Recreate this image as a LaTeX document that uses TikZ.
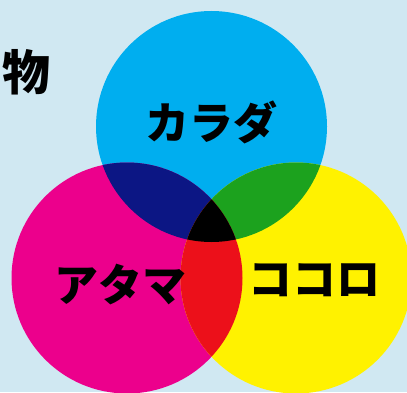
\documentclass[tikz,border=0pt]{standalone}
\usepackage{fontspec}
\newfontfamily\jpfont{Noto Sans CJK JP}
\definecolor{bgblue}{RGB}{208,232,242}
\definecolor{bodycyan}{RGB}{0,174,239}
\definecolor{headmagenta}{RGB}{236,0,140}
\definecolor{heartyellow}{RGB}{255,242,0}
\definecolor{mixnavy}{RGB}{12,22,132}
\definecolor{mixgreen}{RGB}{28,162,30}
\definecolor{mixred}{RGB}{236,16,26}
\begin{document}
\begin{tikzpicture}[x=1pt, y=1pt,
    setcircle/.style={circle, minimum size=231pt, inner sep=0pt},
    setlabel/.style={font=\jpfont\bfseries\fontsize{44}{44}\selectfont, inner sep=0pt}
]
    \useasboundingbox (0,0) rectangle (407,392);
    \fill[bgblue] (0,0) rectangle (407,392);

    % three sets
    \node[setcircle, fill=bodycyan] (body) at (211.5,265.5) {};
    \node[setcircle, fill=headmagenta] (head) at (127,114) {};
    \node[setcircle, fill=heartyellow] (heart) at (296,114) {};

    % overlaps
    \begin{scope}
        \clip (body.center) circle (115.5);
        \fill[mixnavy] (head.center) circle (115.5);
        \fill[mixgreen] (heart.center) circle (115.5);
    \end{scope}
    \begin{scope}
        \clip (head.center) circle (115.5);
        \fill[mixred] (heart.center) circle (115.5);
        \clip (heart.center) circle (115.5);
        \fill[black] (body.center) circle (115.5);
    \end{scope}

    % labels
    \node[setlabel] (bodytext) at (211,270) {カラダ};
    \node[setlabel] (headtext) at (120,107) {アタマ};
    \node[setlabel] (hearttext) at (314,112) {ココロ};
    \node[setlabel, font=\jpfont\bfseries\fontsize{48}{48}\selectfont] (thing) at (26,320) {物};
\end{tikzpicture}
\end{document}
